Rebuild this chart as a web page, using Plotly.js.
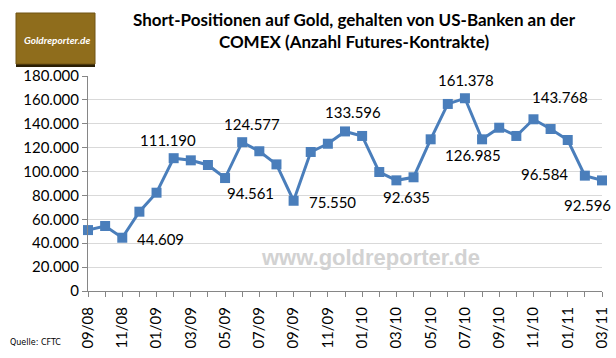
<!DOCTYPE html>
<html>
<head>
<meta charset="utf-8">
<script src="https://cdn.plot.ly/plotly-3.0.1.min.js"></script>
<style>
html,body{margin:0;padding:0;background:#fff;}
#chart{width:616px;height:358px;}
</style>
</head>
<body>
<div id="chart"></div>
<script>
// Months (09/08 .. 03/11)
var months = ["09/08","10/08","11/08","12/08","01/09","02/09","03/09","04/09","05/09","06/09","07/09","08/09","09/09","10/09","11/09","12/09","01/10","02/10","03/10","04/10","05/10","06/10","07/10","08/10","09/10","10/10","11/10","12/10","01/11","02/11","03/11"];
// Short positions (contracts)
var shorts = [51000,54400,44609,66400,82300,111190,109400,105500,94561,124577,117000,106000,75550,116400,123300,133596,129800,99600,92635,95200,127000,156600,161378,126985,136700,129800,143768,135600,126400,96584,92596];
// Tick labels shown on the x axis (every 2nd month)
var tickLabels = ["09/08","11/08","01/09","03/09","05/09","07/09","09/09","11/09","01/10","03/10","05/10","07/10","09/10","11/10","01/11","03/11"];
// Months that carry a value label
var labelled = ["11/08","02/09","05/09","06/09","09/09","12/09","03/10","07/10","08/10","11/10","02/11","03/11"];
// Label offsets (px) for the labelled points
var labelShift = [[38,-1],[-6,18],[25,-15],[10,18],[39,-1],[8,19],[10,-17],[1,18],[-9,-16],[27,22],[-40,2],[-15,-25]];

function fmt(v){
  return String(Math.round(v)).replace(/\B(?=(\d{3})+(?!\d))/g, ".");
}

var xIdx = months.map(function(m,i){return i;});
var tickVals = tickLabels.map(function(t){return months.indexOf(t);});

var annotations = labelled.map(function(m,k){
  var i = months.indexOf(m);
  return {x:i, y:shorts[i], xref:'x', yref:'y', text:fmt(shorts[i]), showarrow:false,
    xanchor:'center', yanchor:'middle',
    xshift:labelShift[k][0], yshift:labelShift[k][1],
    font:{family:'Lato, sans-serif', size:15, color:'#000'}};
});

// plot area pixel -> paper helpers
var L=88, R=602, T=76, B=291;
function px(x){return (x-L)/(R-L);}
function py(y){return (B-y)/(B-T);}

annotations.push({xref:'paper', yref:'paper', x:px(370), y:py(257), xanchor:'center', yanchor:'middle',
  text:'www.goldreporter.de', showarrow:false,
  font:{family:'Liberation Sans, Arial, sans-serif', size:22, color:'#d2d2d2', weight:'bold'}});
annotations.push({xref:'paper', yref:'paper', x:px(57), y:py(40), xanchor:'center', yanchor:'middle',
  text:'<i>Goldreporter.de</i>', showarrow:false,
  font:{family:'Lato, sans-serif', size:10, color:'#ffffff', weight:'bold'}});
annotations.push({xref:'paper', yref:'paper', x:px(35), y:py(342), xanchor:'center', yanchor:'middle',
  text:'Quelle: CFTC', showarrow:false,
  font:{family:'DejaVu Sans, sans-serif', size:8, color:'#000'}});

var shapes = [
  {type:'rect', xref:'paper', yref:'paper', x0:px(16), x1:px(95), y0:py(67), y1:py(64), fillcolor:'#2b1f05', line:{width:0}, layer:'below'},
  {type:'rect', xref:'paper', yref:'paper', x0:px(16), x1:px(95), y0:py(13), y1:py(64), fillcolor:'#8f6d1c', line:{color:'#705414', width:1}, layer:'below'}
];

var trace = {
  x: xIdx, y: shorts, type:'scatter', mode:'lines+markers',
  line:{color:'#4a7ebb', width:3},
  marker:{symbol:'square', size:10, color:'#4a7ebb'},
  cliponaxis:false, hoverinfo:'none'
};

var layout = {
  width:616, height:358,
  margin:{l:L, r:616-R, t:T, b:358-B, pad:0},
  paper_bgcolor:'#fff', plot_bgcolor:'#fff',
  separators:',.',
  showlegend:false,
  title:{text:'Short-Positionen auf Gold, gehalten von US-Banken an der<br>COMEX (Anzahl Futures-Kontrakte)',
    x:354/616, xanchor:'center', xref:'container', y:1-26/358, yanchor:'top', yref:'container',
    font:{family:'Lato, sans-serif', size:17, color:'#000', weight:'bold'}},
  xaxis:{range:[0,30], tickvals:tickVals, ticktext:tickLabels, tickangle:-90,
    showgrid:false, zeroline:false, showline:true, linecolor:'#868686', linewidth:1,
    ticks:'outside', ticklen:5, tickcolor:'#868686', ticklabelstandoff:4,
    minor:{dtick:1, tick0:0, ticks:'outside', ticklen:5, tickcolor:'#868686', showgrid:false},
    tickfont:{family:'Lato, sans-serif', size:15, color:'#000'}},
  yaxis:{range:[0,180000], tickvals:[0,20000,40000,60000,80000,100000,120000,140000,160000,180000],
    tickformat:',d', showgrid:true, gridcolor:'#d9d9d9', gridwidth:1, zeroline:false,
    showline:true, linecolor:'#868686', linewidth:1, ticks:'outside', ticklen:5, tickcolor:'#868686',
    tickfont:{family:'Lato, sans-serif', size:15, color:'#000'}},
  annotations:annotations,
  shapes:shapes
};

Plotly.newPlot('chart', [trace], layout, {staticPlot:true, displayModeBar:false});
</script>
</body>
</html>
